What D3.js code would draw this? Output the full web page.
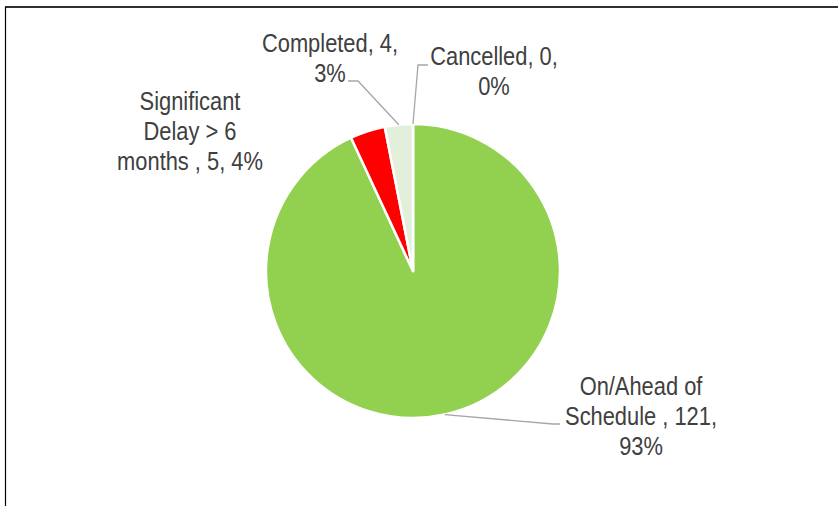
<!DOCTYPE html>
<html>
<head>
<meta charset="utf-8">
<script src="https://cdn.jsdelivr.net/npm/d3@7"></script>
<style>
    body { margin: 0; background: #fff; }
    svg { display: block; }
    .label { font-family: "Liberation Sans Narrow", "Arial Narrow", "Liberation Sans", sans-serif; font-size: 25px; fill: #404040; }
    .leader { fill: none; stroke: #a6a6a6; stroke-width: 1.3; }
</style>
</head>
<body>
<svg width="838" height="506"></svg>
<script>
// status breakdown
let categories = ["On/Ahead of Schedule ", "Significant Delay > 6 months ", "Completed", "Cancelled"];
let counts = [121, 5, 4, 0];
let percents = ["93%", "4%", "3%", "0%"];
let labelLines = [
    ["On/Ahead of", "Schedule , 121,", "93%"],
    ["Significant", "Delay > 6", "months , 5, 4%"],
    ["Completed, 4,", "3%"],
    ["Cancelled, 0,", "0%"]
];
let colors = ["#92d050", "#ff0000", "#e2efda", "#c6e0b4"];

let svg = d3.select("svg");
let width = +svg.attr("width"),
    height = +svg.attr("height");

// chart frame (top and left edge visible)
svg.append("line")
    .attr("x1", 5).attr("y1", 7)
    .attr("x2", width).attr("y2", 7)
    .attr("stroke", "#303030")
    .attr("stroke-width", 2);
svg.append("line")
    .attr("x1", 5.5).attr("y1", 7)
    .attr("x2", 5.5).attr("y2", height)
    .attr("stroke", "#000")
    .attr("stroke-width", 1.2);

let cx = 413, cy = 271, radius = 147;

let data = categories.map((c, i) => ({ name: c, value: counts[i], pct: percents[i], lines: labelLines[i], color: colors[i] }));

let pie = d3.pie()
    .value(d => d.value)
    .sort(null);

let arc = d3.arc()
    .innerRadius(0)
    .outerRadius(radius);

let g = svg.append("g")
    .attr("transform", "translate(" + cx + "," + cy + ")");

let arcs = pie(data);

g.selectAll(".slice")
    .data(arcs)
    .enter()
    .append("path")
    .classed("slice", true)
    .attr("d", arc)
    .attr("fill", d => d.data.color)
    .attr("stroke", "#fff")
    .attr("stroke-width", 2.5)
    .attr("stroke-linejoin", "round");

// label placement: centre x, first baseline, leader elbow (relative to pie centre)
let labelLayout = [
    { x: 228, y: 124, elbow: [140, 153], lead: [147, 153] },
    { x: -223, y: -161, elbow: null },
    { x: -83, y: -219, elbow: [-55, -190], lead: [-65, -190] },
    { x: 81, y: -206, elbow: [5, -206], lead: [15, -206] }
];

let lineHeight = 30;
// narrow face isn't installed, so squeeze the regular one
let squeeze = 0.875;

arcs.forEach((d, i) => {
    let lay = labelLayout[i];
    let mid = (d.startAngle + d.endAngle) / 2;
    let edge = [Math.sin(mid) * radius, -Math.cos(mid) * radius];

    if (lay.elbow) {
        g.append("polyline")
            .classed("leader", true)
            .attr("points", [edge, lay.elbow, lay.lead].map(p => p.join(",")).join(" "));
    }

    let t = g.append("text")
        .classed("label", true)
        .attr("text-anchor", "middle")
        .attr("transform", "translate(" + lay.x + "," + lay.y + ") scale(" + squeeze + ",1)");

    d.data.lines.forEach((line, j) => {
        t.append("tspan")
            .attr("x", 0)
            .attr("y", j * lineHeight)
            .text(line);
    });
});
</script>
</body>
</html>
